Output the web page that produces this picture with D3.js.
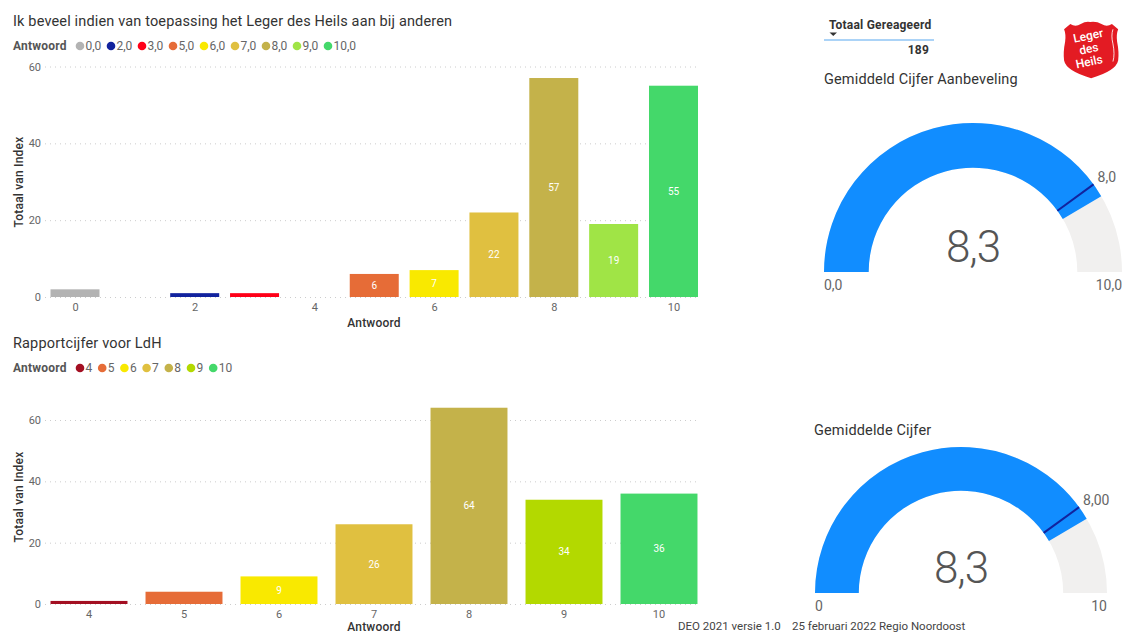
<!DOCTYPE html>
<html>
<head>
<meta charset="utf-8">
<script src="https://cdn.jsdelivr.net/npm/d3@7"></script>
<style>
  html, body { margin: 0; padding: 0; background: #fff; overflow: hidden; }
  text { font-family: Roboto, "Open Sans", sans-serif; }
  .title { font-size: 14.5px; fill: #333; letter-spacing: 0.15px; }
  .axis-title { font-size: 12px; fill: #333; font-weight: 500; letter-spacing: 0.2px; }
  .tick-label { font-size: 11px; fill: #666; }
  .legend-title { font-size: 12px; fill: #555; font-weight: 700; letter-spacing: 0.2px; }
  .legend-label { font-size: 12px; fill: #666; }
  .bar-label { font-size: 10px; fill: #fff; font-weight: 400; }
  .grid line { stroke: #ccc; stroke-dasharray: 1 4; }
</style>
</head>
<body>
<svg id="chart" width="1126" height="633" style="display:block"></svg>
<script>
// Top chart: aanbeveling
let answers1 = [0, 2, 3, 5, 6, 7, 8, 9, 10];
let values1 = [2, 1, 1, 6, 7, 22, 57, 19, 55];
let colors1 = ["#B3B3B3", "#12239E", "#FF0018", "#E66C37", "#F9E900", "#E0C040", "#C4B24A", "#A0E446", "#44D86A"];
let legend1 = ["0,0", "2,0", "3,0", "5,0", "6,0", "7,0", "8,0", "9,0", "10,0"];
let xTicks1 = [0, 2, 4, 6, 8, 10];

// Bottom chart: rapportcijfer
let answers2 = [4, 5, 6, 7, 8, 9, 10];
let values2 = [1, 4, 9, 26, 64, 34, 36];
let colors2 = ["#A30F22", "#E66C37", "#F9E900", "#E0C040", "#C4B24A", "#B3D900", "#44D86A"];
let legend2 = ["4", "5", "6", "7", "8", "9", "10"];

let yTicks = [0, 20, 40, 60];

let svg = d3.select("#chart");

// Shared bits for the two bar charts
function frame(opts) {
  let g = svg.append("g");

  g.append("g")
    .attr("class", "grid")
    .attr("transform", `translate(${opts.gridLeft}, 0)`)
    .call(d3.axisLeft(opts.y).tickValues(yTicks).tickSize(-opts.gridWidth).tickFormat(""))
    .call(a => a.select(".domain").remove());

  let yAxis = g.append("g")
    .attr("transform", `translate(${opts.gridLeft}, 0)`)
    .call(d3.axisLeft(opts.y).tickValues(yTicks).tickSize(0).tickPadding(4))
    .call(a => a.select(".domain").remove());
  yAxis.selectAll("text").attr("class", "tick-label").attr("font-family", null).attr("font-size", null);

  g.append("text")
    .attr("class", "title")
    .attr("x", 13)
    .attr("y", opts.titleY)
    .text(opts.title);

  g.append("text")
    .attr("class", "axis-title")
    .attr("transform", `translate(23, ${opts.yTitleY}) rotate(-90)`)
    .attr("text-anchor", "middle")
    .text("Totaal van Index");

  g.append("text")
    .attr("class", "axis-title")
    .attr("x", 374)
    .attr("y", opts.xTitleY)
    .attr("text-anchor", "middle")
    .text("Antwoord");

  // Legend
  g.append("text")
    .attr("class", "legend-title")
    .attr("x", 13)
    .attr("y", opts.legendY + 4)
    .text("Antwoord");

  let item = g.selectAll(".legend-item")
    .data(opts.legend)
    .join("g")
    .attr("class", "legend-item")
    .attr("transform", (d, i) => `translate(${80 + i * opts.legendStep}, ${opts.legendY})`);
  item.append("circle")
    .attr("r", 4.3)
    .attr("fill", (d, i) => opts.colors[i]);
  item.append("text")
    .attr("class", "legend-label")
    .attr("x", 5.5)
    .attr("y", 4)
    .text(d => d);

  return g;
}

function bars(g, data, x, y, width) {
  let bar = g.selectAll(".bar")
    .data(data)
    .join("g")
    .attr("class", "bar");
  bar.append("rect")
    .attr("x", d => x(d.answer) - width / 2)
    .attr("y", d => y(d.value))
    .attr("width", width)
    .attr("height", d => y(0) - y(d.value))
    .attr("fill", d => d.color);
  bar.filter(d => d.value >= 6).append("text")
    .attr("class", "bar-label")
    .attr("x", d => x(d.answer))
    .attr("y", d => (y(d.value) + y(0)) / 2 + 3.5)
    .attr("text-anchor", "middle")
    .text(d => d.value);
}

// Top bar chart, linear x axis
let x1 = d3.scaleLinear().domain([0, 10]).range([75, 673.5]);
let y1 = d3.scaleLinear().domain([0, 60]).range([297, 66.5]);
let g1 = frame({
  y: y1, gridLeft: 45, gridWidth: 655, title: "Ik beveel indien van toepassing het Leger des Heils aan bij anderen",
  titleY: 26, yTitleY: 182, xTitleY: 327, legend: legend1, colors: colors1, legendY: 46, legendStep: 31
});
bars(g1, answers1.map((a, i) => ({answer: a, value: values1[i], color: colors1[i]})), x1, y1, 49);
let xAxis1 = g1.append("g")
  .attr("transform", "translate(0, 297)")
  .call(d3.axisBottom(x1).tickValues(xTicks1).tickSize(0).tickPadding(6))
  .call(a => a.select(".domain").remove());
xAxis1.selectAll("text").attr("class", "tick-label").attr("font-family", null).attr("font-size", null);

// Bottom bar chart, one band per answer
let x2 = d3.scaleBand().domain(answers2).range([41.5, 706.5]).paddingInner(0.19).paddingOuter(0.095);
let y2 = d3.scaleLinear().domain([0, 60]).range([604, 420]);
let g2 = frame({
  y: y2, gridLeft: 45, gridWidth: 655, title: "Rapportcijfer voor LdH",
  titleY: 348, yTitleY: 497, xTitleY: 631, legend: legend2, colors: colors2, legendY: 368, legendStep: 22.2
});
bars(g2, answers2.map((a, i) => ({answer: a, value: values2[i], color: colors2[i]})),
  a => x2(a) + x2.bandwidth() / 2, y2, x2.bandwidth());
let xAxis2 = g2.append("g")
  .attr("transform", "translate(0, 604)")
  .call(d3.axisBottom(x2).tickSize(0).tickPadding(6))
  .call(a => a.select(".domain").remove());
xAxis2.selectAll("text").attr("class", "tick-label").attr("font-family", null).attr("font-size", null);

// Gauges
function gauge(opts) {
  let g = svg.append("g").attr("transform", `translate(${opts.cx}, ${opts.cy})`);
  let angle = d3.scaleLinear().domain([0, 10]).range([-Math.PI / 2, Math.PI / 2]);
  let arc = d3.arc().innerRadius(opts.r * 0.7).outerRadius(opts.r);

  g.append("path").attr("fill", "#F1F0EF")
    .attr("d", arc({startAngle: angle(0), endAngle: angle(10)}));
  g.append("path").attr("fill", "#118DFF")
    .attr("d", arc({startAngle: angle(0), endAngle: angle(opts.value)}));

  // Target marker
  let t = angle(opts.target) - Math.PI / 2;
  g.append("line")
    .attr("x1", Math.cos(t) * opts.r * 0.7).attr("y1", Math.sin(t) * opts.r * 0.7)
    .attr("x2", Math.cos(t) * opts.r).attr("y2", Math.sin(t) * opts.r)
    .attr("stroke", "#12239E").attr("stroke-width", 2);

  g.append("text")
    .attr("x", 0).attr("y", -10)
    .attr("text-anchor", "middle")
    .attr("fill", "#555")
    .style("font-size", "44px").style("font-weight", 300).style("letter-spacing", "-1px")
    .text(opts.label);

  let small = (x, y, anchor, txt) => g.append("text")
    .attr("x", x).attr("y", y)
    .attr("text-anchor", anchor)
    .attr("fill", "#666")
    .style("font-size", "14px")
    .text(txt);
  small(-opts.r, 18, "start", opts.minLabel);
  small(opts.r, 18, "end", opts.maxLabel);
  small(Math.cos(t) * opts.r + 4, Math.sin(t) * opts.r - 2, "start", opts.targetLabel);

  svg.append("text")
    .attr("class", "title")
    .attr("x", opts.titleX).attr("y", opts.titleY)
    .text(opts.title);
}

gauge({cx: 973, cy: 272, r: 149, value: 8.3, target: 8, label: "8,3", minLabel: "0,0", maxLabel: "10,0",
  targetLabel: "8,0", title: "Gemiddeld Cijfer Aanbeveling", titleX: 824, titleY: 84});
gauge({cx: 961, cy: 593, r: 146, value: 8.3, target: 8, label: "8,3", minLabel: "0", maxLabel: "10",
  targetLabel: "8,00", title: "Gemiddelde Cijfer", titleX: 814, titleY: 435});

// Small table with the total
svg.append("text").attr("class", "legend-title").attr("x", 829).attr("y", 29)
  .style("fill", "#333").text("Totaal Gereageerd");
svg.append("path").attr("d", "M829.5,32.5h7.5l-3.75,3.5z").attr("fill", "#333");
svg.append("line").attr("x1", 824).attr("x2", 934).attr("y1", 40).attr("y2", 40)
  .attr("stroke", "#8FC4F5").attr("stroke-width", 1.5);
svg.append("text").attr("class", "legend-title").attr("x", 929).attr("y", 54)
  .attr("text-anchor", "end").style("fill", "#333").text("189");

// Footer line, right at the page bottom like the original
svg.append("text")
  .attr("x", 678).attr("y", 630)
  .attr("fill", "#444")
  .style("font-size", "11.5px")
  .style("white-space", "pre")
  .text("DEO 2021 versie 1.0    25 februari 2022 Regio Noordoost");

// Leger des Heils shield
let logo = svg.append("g").attr("transform", "translate(1062, 21) scale(1.04)");
logo.append("path")
  .attr("fill", "#E31B23")
  .attr("d", "M2,8 L8,3 Q13,6 18,3 Q23,0 27,1 Q33,0 38,3 Q43,6 48,3 L54,8 Q52,13 53,20 Q55,30 54,38 Q52,48 28,55 Q4,48 2,38 Q1,30 3,20 Q4,13 2,8 Z");
logo.append("path")
  .attr("fill", "none").attr("stroke", "#fff").attr("stroke-width", 0.8)
  .attr("d", "M49,8 Q47,14 49,22 Q51,32 49,39");
["Leger", "des", "Heils"].forEach(function(word, i) {
  logo.append("text")
    .attr("transform", `translate(${26 + i * 0.5}, ${18 + i * 12.5}) rotate(-12)`)
    .attr("text-anchor", "middle")
    .attr("fill", "#fff")
    .style("font-size", "11.5px").style("font-weight", 500)
    .text(word);
});
</script>
</body>
</html>
